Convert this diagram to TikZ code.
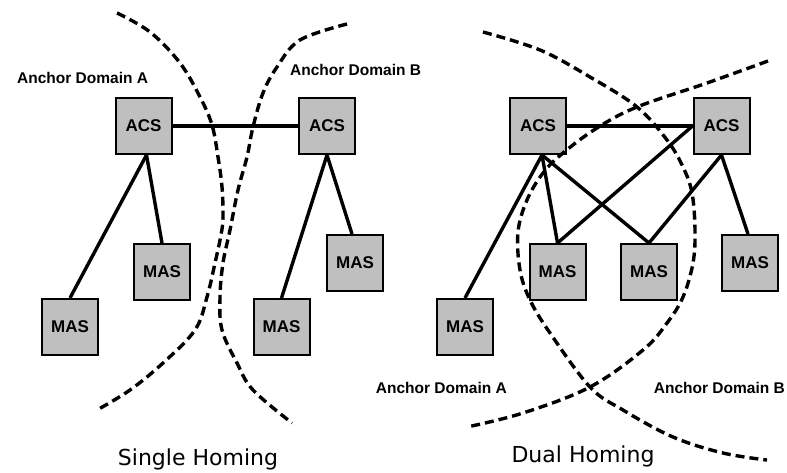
\documentclass[tikz,border=0pt]{standalone}
\usepackage{fontspec}
\setmainfont{Liberation Sans}
\newfontfamily\titlefont{DejaVu Sans}
\begin{document}
\begin{tikzpicture}[x=1pt,y=-1pt,
  srv/.style={draw=black, line width=2pt, fill=black!25, minimum width=56pt, minimum height=56pt, inner sep=0pt, font=\fontsize{17}{17}\selectfont\bfseries},
  link/.style={line width=3.4pt},
  border/.style={line width=3.4pt, dash pattern=on 9pt off 5pt},
  dlabel/.style={font=\fontsize{15.5}{15.5}\selectfont\bfseries, inner sep=0pt},
  title/.style={font=\titlefont\fontsize{22}{22}\selectfont, inner sep=0pt}]
\useasboundingbox (0,0) rectangle (787,473);
% --- Single homing ---
\node[srv] (acsA) at (143.5,126) {ACS};
\node[srv] (acsB) at (327,126) {ACS};
\node[srv] (mas1) at (70,327) {MAS};
\node[srv] (mas2) at (162,272) {MAS};
\node[srv] (mas3) at (281.5,327) {MAS};
\node[srv] (mas4) at (355,263) {MAS};
\draw[link] (acsA.east) -- (acsB.west);
\draw[link] ([xshift=3pt]acsA.south) -- (mas1.north);
\draw[link] ([xshift=3pt]acsA.south) -- (mas2.north);
\draw[link] (acsB.south) -- (mas3.north);
\draw[link] (acsB.south) -- ([xshift=-3pt]mas4.north);
\draw[border] plot[smooth, tension=0.6] coordinates {(117,13) (150,32) (180,63) (200,97) (212,125) (218,157) (222,187) (223,217) (221,235) (215,263) (207,297) (195,330) (163,363) (130,390) (97,410)};
\draw[border] plot[smooth, tension=0.6] coordinates {(347,24) (300,40) (277,67) (263,93) (253,127) (247,157) (238,190) (230,230) (223,263) (220,297) (222,330) (237,363) (253,390) (292,423)};
\node[dlabel, anchor=west] (lA1) at (17,78) {Anchor Domain A};
\node[dlabel, anchor=west] (lB1) at (290,70) {Anchor Domain B};
\node[title] (t1) at (198,459) {Single Homing};
% --- Dual homing ---
\node[srv] (acsC) at (538,126) {ACS};
\node[srv] (acsD) at (721.5,126) {ACS};
\node[srv] (mas5) at (465,327) {MAS};
\node[srv] (mas6) at (557.5,272) {MAS};
\node[srv] (mas7) at (649,272) {MAS};
\node[srv] (mas8) at (750,263) {MAS};
\draw[link] (acsC.east) -- (acsD.west);
\draw[link] ([xshift=4pt]acsC.south) -- (mas5.north);
\draw[link] ([xshift=4pt]acsC.south) -- (mas6.north);
\draw[link] ([xshift=4pt]acsC.south) -- (mas7.north);
\draw[link] (acsD.west) -- (mas6.north);
\draw[link] (acsD.south) -- (mas7.north);
\draw[link] (acsD.south) -- ([xshift=-2pt]mas8.north);
\draw[border] plot[smooth, tension=0.6] coordinates {(483,32) (540,50) (590,77) (637,107) (667,140) (683,167) (692,193) (695,230) (693,263) (683,297) (667,323) (643,350) (590,387) (523,413) (467,427)};
\draw[border] plot[smooth, tension=0.6] coordinates {(768,61) (707,83) (637,107) (597,128) (563,153) (543,173) (527,200) (518,232) (520,270) (530,300) (550,333) (590,387) (623,410) (673,437) (723,453) (767,460)};
\node[dlabel, anchor=east] (lA2) at (507,388) {Anchor Domain A};
\node[dlabel, anchor=east] (lB2) at (785,388) {Anchor Domain B};
\node[title] (t2) at (583,456) {Dual Homing};
\end{tikzpicture}
\end{document}
